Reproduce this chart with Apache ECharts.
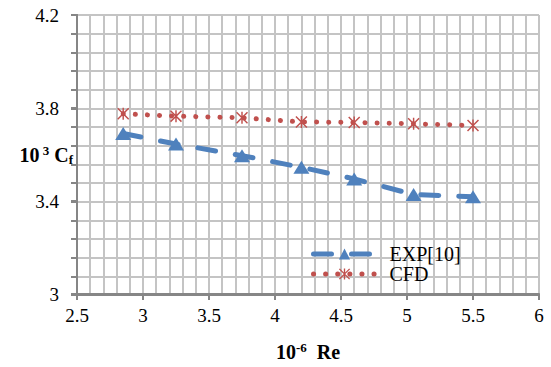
<!DOCTYPE html>
<html><head><meta charset="utf-8">
<script src="https://cdn.jsdelivr.net/npm/echarts@6/dist/echarts.min.js"></script>
<style>html,body{margin:0;padding:0;background:#fff}#c{width:551px;height:367px}</style>
</head><body><div id="c"></div>
<script>
const reValues = [2.85, 3.25, 3.75, 4.2, 4.6, 5.05, 5.5];
const expCf = [3.69, 3.645, 3.595, 3.545, 3.495, 3.428, 3.418];
const cfdCf = [3.775, 3.765, 3.758, 3.74, 3.738, 3.732, 3.725];
const seriesNames = ['EXP[10]', 'CFD'];

const blue = '#4F81BD', red = '#C0504D';
const FONT = 'Liberation Serif';
const GRIDC = '#C4C4C4', AXC = '#868686';
const starPath = 'path://M4.4 0 L5.6 0 L5.6 10 L4.4 10 Z M0 0.85 L0.85 0 L10 9.15 L9.15 10 Z M9.15 0 L10 0.85 L0.85 10 L0 9.15 Z';
const expLine = {color: blue, width: 5, type: [18, 20], cap: 'round'};
const cfdLine = {color: red, width: 5, type: [0.1, 12], cap: 'round'};
const gridBox = {left: 77, right: 12, top: 15, bottom: 72};

const chart = echarts.init(document.getElementById('c'), null, {renderer: 'svg'});
chart.setOption({
  animation: false,
  backgroundColor: '#fff',
  grid: [Object.assign({}, gridBox), Object.assign({}, gridBox)],
  xAxis: [
    {
      gridIndex: 0, type: 'value', min: 2.5, max: 6, interval: 0.1,
      axisLine: {show: true, lineStyle: {color: AXC, width: 2}},
      axisTick: {show: false}, axisLabel: {show: false},
      splitLine: {show: true, lineStyle: {color: GRIDC, width: 2}}
    },
    {
      gridIndex: 1, type: 'value', min: 2.5, max: 6, interval: 0.5,
      axisLine: {show: true, lineStyle: {color: AXC, width: 2}},
      axisTick: {show: true, length: 6, lineStyle: {color: AXC, width: 2}},
      splitLine: {show: false},
      axisLabel: {margin: 12, color: '#000', fontFamily: FONT, fontSize: 19},
      name: '{b|10}{sup|-6}{b|  Re}',
      nameLocation: 'middle', nameGap: 47, nameMoveOverlap: false,
      nameTextStyle: {
        rich: {
          b: {fontFamily: FONT, fontWeight: 'bold', fontSize: 20, color: '#000'},
          sup: {fontFamily: FONT, fontWeight: 'bold', fontSize: 13, color: '#000', padding: [0, 0, 9, 0]}
        }
      }
    }
  ],
  yAxis: [
    {
      gridIndex: 0, type: 'value', min: 3, max: 4.2, interval: 0.08,
      axisLine: {show: true, lineStyle: {color: AXC, width: 2}},
      axisTick: {show: true, length: 6, lineStyle: {color: AXC, width: 2}},
      axisLabel: {show: false},
      splitLine: {show: true, lineStyle: {color: GRIDC, width: 2}}
    },
    {
      gridIndex: 1, type: 'value', min: 3, max: 4.2, interval: 0.4,
      axisLine: {show: true, lineStyle: {color: AXC, width: 2}},
      axisTick: {show: true, length: 6, lineStyle: {color: AXC, width: 2}},
      splitLine: {show: false},
      axisLabel: {margin: 18, color: '#000', fontFamily: FONT, fontSize: 19},
      name: '{b|10}{sup| 3}{b| C}{sub|f}',
      nameLocation: 'middle', nameRotate: 0, nameGap: 4, nameMoveOverlap: false,
      nameTextStyle: {
        rich: {
          b: {fontFamily: FONT, fontWeight: 'bold', fontSize: 20, color: '#000'},
          sup: {fontFamily: FONT, fontWeight: 'bold', fontSize: 13, color: '#000', padding: [0, 0, 9, 0]},
          sub: {fontFamily: FONT, fontWeight: 'bold', fontSize: 13, color: '#000', padding: [9, 0, 0, 0]}
        }
      }
    }
  ],
  legend: {
    orient: 'vertical', left: 306, top: 239,
    itemWidth: 62, itemHeight: 14, itemGap: 0,
    textStyle: {fontFamily: FONT, fontSize: 20, color: '#000', padding: [0, 0, 0, 9]},
    data: [
      {name: seriesNames[0], lineStyle: expLine},
      {name: seriesNames[1], lineStyle: cfdLine}
    ]
  },
  series: [
    {
      name: seriesNames[0], type: 'line', xAxisIndex: 1, yAxisIndex: 1,
      data: reValues.map((x, i) => [x, expCf[i]]),
      symbol: 'triangle', symbolSize: [16, 13], showSymbol: true,
      itemStyle: {color: blue},
      lineStyle: expLine,
      z: 3
    },
    {
      name: seriesNames[1], type: 'line', xAxisIndex: 1, yAxisIndex: 1,
      data: reValues.map((x, i) => [x, cfdCf[i]]),
      symbol: starPath, symbolSize: 12, showSymbol: true,
      itemStyle: {color: red},
      lineStyle: cfdLine,
      z: 3
    }
  ]
});
</script></body></html>
